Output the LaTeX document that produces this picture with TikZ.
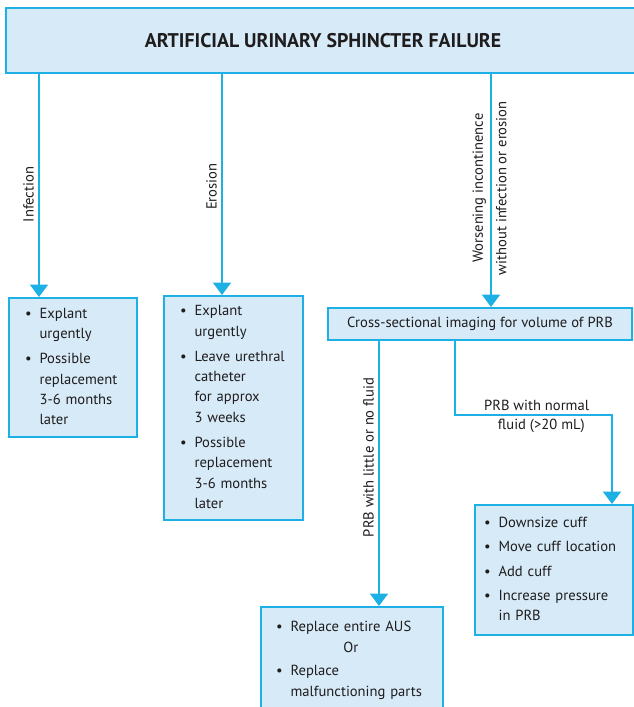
\documentclass[tikz,border=0pt]{standalone}
\usepackage{fontspec}
\setmainfont{PT Sans}
\usetikzlibrary{arrows.meta}
\definecolor{lineblue}{RGB}{28,176,228}
\definecolor{fillblue}{RGB}{215,234,248}
\definecolor{txt}{RGB}{30,28,29}
\newcommand\bl{\textbullet}
\begin{document}
\begin{tikzpicture}[x=1pt,y=-1pt,
  font=\fontsize{14.6}{20.3}\selectfont, text=txt,
  box/.style={draw=lineblue, fill=fillblue, line width=2pt, inner ysep=0pt, align=left},
  conn/.style={draw=lineblue, line width=2.2pt},
  arr/.style={conn, -{Triangle[width=18pt,length=12.5pt]}},
  lbl/.style={rotate=90, inner sep=4pt}]
\useasboundingbox (0,0) rectangle (633,707);

\node[box, minimum width=634pt, minimum height=65pt, align=center,
  font=\fontsize{19.8}{22}\selectfont\bfseries] (title) at (323,40.5)
  {ARTIFICIAL URINARY SPHINCTER FAILURE};

\node[box, minimum width=128pt, minimum height=139pt, inner xsep=16pt, text width=96pt] (b1) at (73,367.5)
  {\begin{tabular}{@{}c@{\hspace{8pt}}l@{}}
   \bl & Explant\\ & urgently\\[5pt]
   \bl & Possible\\ & replacement\\ & 3-6 months\\ & later
   \end{tabular}};

\node[box, minimum width=139pt, minimum height=224pt, inner xsep=16pt, text width=107pt] (b2) at (233.5,408)
  {\begin{tabular}{@{}c@{\hspace{8pt}}l@{}}
   \bl & Explant\\ & urgently\\[5pt]
   \bl & Leave urethral\\ & catheter\\ & for approx\\ & 3 weeks\\[5pt]
   \bl & Possible\\ & replacement\\ & 3-6 months\\ & later
   \end{tabular}};

\node[box, minimum width=304pt, minimum height=32pt, align=center] (cs) at (480,324)
  {Cross-sectional imaging for volume of PRB};

\node[box, minimum width=182pt, minimum height=105pt, inner xsep=15pt, text width=152pt] (b3) at (352,659.5)
  {\begin{tabular}{@{}c@{\hspace{8pt}}l@{}}
   \bl & Replace entire AUS\\[1pt]
       & {\setbox0\hbox{Replace entire AUS}\makebox[\wd0][c]{Or}}\\[3pt]
   \bl & Replace\\ & malfunctioning parts
   \end{tabular}};

\node[box, minimum width=158pt, minimum height=130pt, inner xsep=9pt, text width=140pt] (b4) at (554,570)
  {\begin{tabular}{@{}c@{\hspace{8pt}}l@{}}
   \bl & Downsize cuff\\[4pt]
   \bl & Move cuff location\\[4pt]
   \bl & Add cuff\\[4pt]
   \bl & Increase pressure\\ & in PRB
   \end{tabular}};

\coordinate (xa) at (39,0);
\coordinate (xb) at (222,0);
\coordinate (xc) at (491,0);
\coordinate (xd) at (379,0);
\coordinate (xe) at (455,0);
\coordinate (xf) at (612,0);
\coordinate (bend1) at (455,415);
\coordinate (bend2) at (612,415);

\draw[arr] (title.south -| xa) -- node[lbl, pos=0.54, anchor=south] {Infection} (b1.north -| xa);
\draw[arr] (title.south -| xb) -- node[lbl, pos=0.51, anchor=south] {Erosion} (b2.north -| xb);
\draw[arr] (title.south -| xc) --
  node[lbl, pos=0.49, anchor=south] {Worsening incontinence}
  node[lbl, pos=0.49, anchor=north] {without infection or erosion} (cs.north -| xc);
\draw[arr] (cs.south -| xd) -- node[lbl, pos=0.44, anchor=south] {PRB with little or no fluid} (b3.north -| xd);
\draw[arr] (cs.south -| xe) -- (bend1) --
  node[pos=0.52, anchor=south, inner sep=3pt] {PRB with normal}
  node[pos=0.55, anchor=north, inner sep=3pt] {fluid (>20 mL)} (bend2) -- (b4.north -| xf);
\end{tikzpicture}
\end{document}
